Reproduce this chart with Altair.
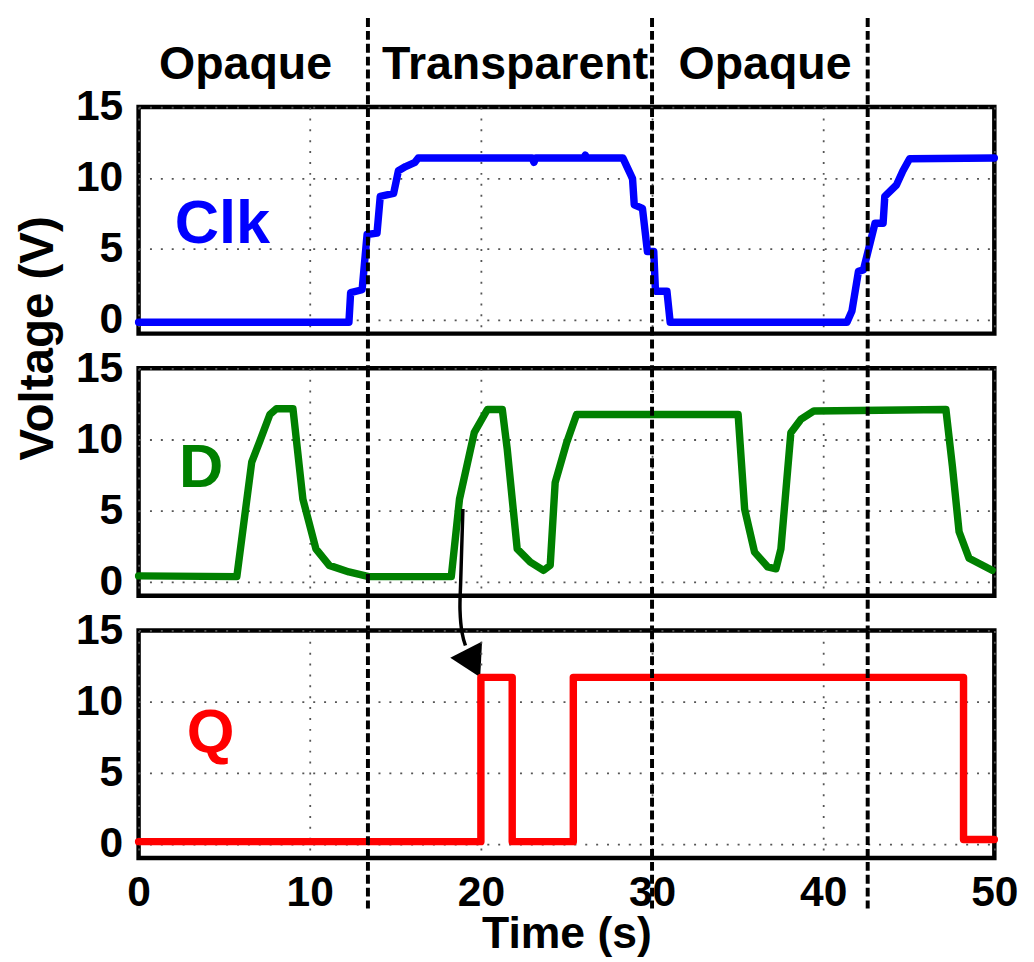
import altair as alt
import pandas as pd

# ---------------- data ----------------
clk_t = [0, 12.29, 12.39, 13.06, 13.35, 13.93, 14.12, 14.9, 15.18, 15.6, 16.15, 16.34,
         23.0, 23.1, 23.2, 26.0, 26.1, 26.2, 28.3, 28.86, 28.96, 29.44, 29.73, 30.1, 30.2,
         30.87, 31.06, 41.39, 41.68, 42.06, 42.35, 43.03, 43.5, 43.6, 44.28, 44.66, 45.05, 50]
clk_v = [-0.2, -0.2, 1.9, 2.1, 6.0, 6.1, 8.7, 8.9, 10.5, 10.8, 11.1, 11.4,
         11.4, 11.1, 11.4, 11.4, 11.6, 11.4, 11.4, 9.95, 8.1, 7.85, 4.8, 4.8, 2.0,
         2.0, -0.2, -0.2, 0.6, 3.4, 3.5, 6.8, 6.8, 8.7, 9.5, 10.5, 11.35, 11.4]

d_t = [0, 5.74, 6.61, 7.09, 7.67, 8.05, 9.02, 9.6, 10.36, 11.14, 12.29, 13.45, 18.27,
       18.75, 19.61, 20.38, 21.25, 21.54, 22.12, 22.89, 23.66, 24.05, 24.34, 25.01, 25.59,
       35.03, 35.41, 35.99, 36.76, 37.24, 37.53, 38.11, 38.69, 39.46, 47.17, 47.55, 47.94,
       48.52, 49.87]
d_v = [0.4, 0.35, 8.4, 9.9, 11.75, 12.15, 12.15, 5.8, 2.3, 1.14, 0.68, 0.35, 0.35,
       5.8, 10.47, 12.1, 12.1, 9.3, 2.3, 1.37, 0.79, 1.14, 6.97, 9.77, 11.75,
       11.75, 5.1, 2.07, 1.03, 0.9, 2.3, 10.47, 11.4, 12.0, 12.1, 8.1, 3.5,
       1.64, 0.8]

q_t = [0, 20.0, 20.0, 21.83, 21.83, 25.4, 25.4, 48.2, 48.2, 50]
q_v = [0.15, 0.15, 11.7, 11.7, 0.15, 0.15, 11.7, 11.7, 0.3, 0.3]

# latch phase boundaries (dashed lines) and labels
boundary_t = [13.4, 30.0, 42.6]
phase_names = ["Opaque", "Transparent", "Opaque"]
phase_t = [6.25, 22.0, 36.6]
phase_v = [17.0, 17.0, 17.0]

# signal name labels
sig_names = ["Clk", "D", "Q"]
sig_t = [4.9, 3.65, 4.2]
sig_v = [6.7, 7.95, 7.8]
sig_colors = ["#0000FF", "#008000", "#FF0000"]

# arrow D -> Q (in D panel coordinates)
arrow_t = [18.95, 18.82, 18.78, 18.9, 19.1]
arrow_v = [5.1, 0.0, -2.0, -3.6, -4.5]
arrowhead_t = [19.55]
arrowhead_v = [-5.75]

x_ticks = [0, 10, 20, 30, 40, 50]
y_ticks = [0, 5, 10, 15]

FONT = "Liberation Sans"
W = 865
H = 230
GAP = 35

xscale = alt.Scale(domain=[0, 50], nice=False, zero=False)
yscale = alt.Scale(domain=[-1, 15], nice=False, zero=False)


def xenc(show):
    if show:
        ax = alt.Axis(values=x_ticks, grid=True, ticks=False, tickSize=0, domain=False,
                      labelPadding=14, title="Time (s)", titleFontSize=45,
                      titleFont=FONT, titleFontWeight="bold", titleBaseline="alphabetic",
                      titleY=90, labelFlush=False, labelOverlap=False)
    else:
        ax = alt.Axis(values=x_ticks, grid=True, ticks=False, tickSize=0, domain=False,
                      labels=False, title=None)
    return alt.X("t:Q", scale=xscale, axis=ax)


def yenc():
    ax = alt.Axis(values=y_ticks, grid=True, ticks=False, tickSize=0, domain=False,
                  labelPadding=16, title=None, labelFlush=False, labelOverlap=False)
    return alt.Y("v:Q", scale=yscale, axis=ax)


def panel(t, v, color, idx, show_x, rule_top, rule_bottom, extra=None, height=H):
    df = pd.DataFrame({"t": t, "v": v})
    line = alt.Chart(df).mark_line(color=color, strokeWidth=7.5, strokeCap="round",
                                   strokeJoin="round").encode(x=xenc(show_x), y=yenc())
    lab = pd.DataFrame({"t": [sig_t[idx]], "v": [sig_v[idx]], "s": [sig_names[idx]]})
    label = alt.Chart(lab).mark_text(color=sig_colors[idx], font=FONT, fontSize=62,
                                     fontWeight="bold", align="center",
                                     baseline="middle").encode(
        x=xenc(show_x), y=yenc(), text="s:N")
    bdf = pd.DataFrame({"t": boundary_t})
    rules = alt.Chart(bdf).mark_rule(color="black", strokeWidth=4,
                                     strokeDash=[9, 4]).encode(
        x=xenc(show_x), y=alt.value(rule_top), y2=alt.value(rule_bottom))
    layers = [line, label]
    if extra:
        layers += extra
    layers.append(rules)
    return alt.layer(*layers).properties(width=W, height=height)


# panel 1 extras: phase labels
pdf = pd.DataFrame({"t": phase_t, "v": phase_v, "s": phase_names})
phase = alt.Chart(pdf).mark_text(font=FONT, fontSize=47, fontWeight="bold", color="black",
                                 align="center", baseline="alphabetic").encode(
    x=xenc(False), y=yenc(), text="s:N")

# panel 2 extras: y title and arrow
ydf = pd.DataFrame({"t": [-5.8], "v": [17.1], "s": ["Voltage (V)"]})
ytitle = alt.Chart(ydf).mark_text(font=FONT, fontSize=48, fontWeight="bold", color="black",
                                  angle=270, align="center", baseline="middle").encode(
    x=xenc(False), y=yenc(), text="s:N")
adf = pd.DataFrame({"t": arrow_t, "v": arrow_v, "i": list(range(len(arrow_t)))})
arrow = alt.Chart(adf).mark_line(color="black", strokeWidth=3.5,
                                 interpolate="catmull-rom").encode(
    x=xenc(False), y=yenc(), order="i:Q")
hdf = pd.DataFrame({"t": arrowhead_t, "v": arrowhead_v})
head = alt.Chart(hdf).mark_point(shape="triangle-down", filled=True, size=1300,
                                 angle=333, color="black", opacity=1).encode(
    x=xenc(False), y=yenc())

p1 = panel(clk_t, clk_v, "#0000FF", 0, False, -90, H + GAP, extra=[phase], height=H - 1)
p2 = panel(d_t, d_v, "#008000", 1, False, 0, H + GAP, extra=[ytitle, arrow, head])
p3 = panel(q_t, q_v, "#FF0000", 2, True, 0, H + 51)

chart = alt.vconcat(p1, p2, p3, spacing=GAP, bounds="flush").properties(
    padding={"left": 5, "top": 0, "right": 5, "bottom": 0}
).configure_view(
    stroke="black", strokeWidth=4.5
).configure_axis(
    labelFont=FONT, labelFontSize=43, labelFontWeight="bold", labelColor="black",
    gridColor="#555555", gridDash=[2, 9], gridWidth=1.8, gridOpacity=1
)

chart.save("out.html", embed_options={"renderer": "svg", "actions": False})
